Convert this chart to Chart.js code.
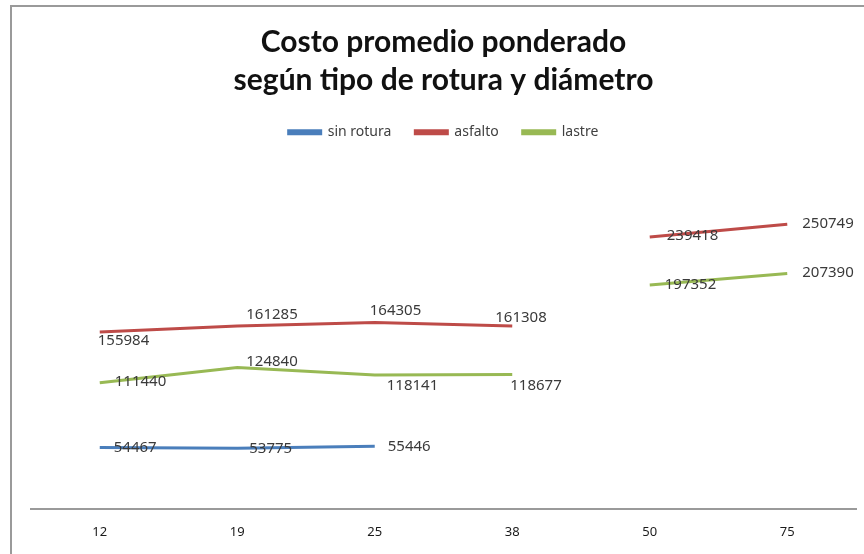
<!DOCTYPE html>
<html>
<head>
<meta charset="utf-8">
<script src="https://cdn.jsdelivr.net/npm/chart.js@4"></script>
<style>
  html, body { margin: 0; padding: 0; background: #fff; }
  #wrap { position: relative; width: 864px; height: 554px; overflow: hidden; }
  #frame { position: absolute; left: 10px; top: 5px; width: 900px; height: 600px;
           border-top: 2px solid #9a9a9a; border-left: 2px solid #9a9a9a; }
  canvas { position: absolute; left: 0; top: 0; }
</style>
</head>
<body>
<div id="wrap">
  <div id="frame"></div>
  <canvas id="chart" width="864" height="547"></canvas>
</div>
<script>
// Data
const diametros = ['12', '19', '25', '38', '50', '75'];
const sinRotura = [54467, 53775, 55446, null, null, null];
const asfalto = [155984, 161285, 164305, 161308, 239418, 250749];
const lastre = [111440, 124840, 118141, 118677, 197352, 207390];

// label placement per point: [dx, dy] from the point
const labelOffsets = {
  sinRotura: [[14, 0], [12, 0], [13, 0]],
  asfalto: [[-2, 9], [9, -11], [-5, -12], [-17, -8], [17, -1], [15, 0]],
  lastre: [[15, -1], [9, -6], [12, 11], [-2, 11], [15, 0], [15, -1]]
};
const offsetKeys = ['sinRotura', 'asfalto', 'lastre'];

const gapAfter = 3; // no line drawn between 38 and 50

// draw the values next to each point
const valueLabels = {
  id: 'valueLabels',
  afterDatasetsDraw(chart) {
    const ctx = chart.ctx;
    ctx.save();
    ctx.font = '15px "Noto Sans"';
    ctx.fillStyle = '#3a3a3a';
    ctx.textAlign = 'left';
    ctx.textBaseline = 'middle';
    chart.data.datasets.forEach((ds, i) => {
      const meta = chart.getDatasetMeta(i);
      const offs = labelOffsets[offsetKeys[i]];
      meta.data.forEach((pt, j) => {
        const v = ds.data[j];
        if (v == null) return;
        const o = offs[j] || [12, 0];
        ctx.fillText(String(v), pt.x + o[0], pt.y + o[1]);
      });
    });
    ctx.restore();
  }
};

// extra space below the legend
const legendGap = {
  id: 'legendGap',
  beforeInit(chart) {
    const fit = chart.legend.fit;
    chart.legend.fit = function () {
      fit.bind(chart.legend)();
      this.height += 19;
    };
  }
};

const gapSegment = {
  borderColor: c => (c.p0DataIndex === gapAfter ? 'rgba(0,0,0,0)' : undefined)
};

new Chart(document.getElementById('chart').getContext('2d'), {
  type: 'line',
  data: {
    labels: diametros,
    datasets: [
      { label: 'sin rotura', data: sinRotura, borderColor: '#4a7ebb', backgroundColor: '#4a7ebb' },
      { label: 'asfalto', data: asfalto, borderColor: '#be4b48', backgroundColor: '#be4b48', segment: gapSegment },
      { label: 'lastre', data: lastre, borderColor: '#98b954', backgroundColor: '#98b954', segment: gapSegment }
    ]
  },
  options: {
    responsive: false,
    animation: false,
    layout: { padding: { left: 31, right: 8, top: 0, bottom: 0 } },
    elements: {
      line: { borderWidth: 3, tension: 0 },
      point: { radius: 0, hoverRadius: 0 }
    },
    plugins: {
      title: {
        display: true,
        text: ['Costo promedio ponderado', 'según tipo de rotura y diámetro'],
        color: '#111',
        font: { family: 'Lato', size: 30, weight: 'bold', lineHeight: 1.27 },
        padding: { top: 23, bottom: 2 }
      },
      legend: {
        display: true,
        position: 'top',
        labels: {
          boxWidth: 32,
          boxHeight: 3,
          color: '#404040',
          font: { family: 'Noto Sans', size: 14 },
          padding: 24
        }
      },
      tooltip: { enabled: false }
    },
    scales: {
      x: {
        offset: true,
        grid: { display: false },
        border: { display: true, color: '#9a9a9a', width: 2 },
        ticks: { color: '#1a1a1a', font: { family: 'Noto Sans', size: 13 }, padding: 7 }
      },
      y: {
        display: false,
        min: 0,
        max: 300000
      }
    }
  },
  plugins: [valueLabels, legendGap]
});
</script>
</body>
</html>
